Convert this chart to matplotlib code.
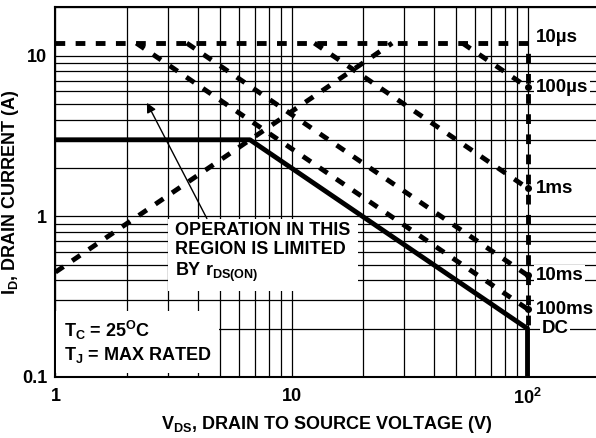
import matplotlib
matplotlib.use("Agg")
import matplotlib.pyplot as plt
from matplotlib.ticker import NullFormatter

plt.rcParams['font.family'] = ['Liberation Sans', 'DejaVu Sans']
plt.rcParams['font.weight'] = 'bold'
plt.rcParams['axes.labelweight'] = 'bold'
plt.rcParams['mathtext.fontset'] = 'custom'
plt.rcParams['mathtext.rm'] = 'Liberation Sans:bold'
plt.rcParams['mathtext.it'] = 'Liberation Sans:bold'
plt.rcParams['mathtext.bf'] = 'Liberation Sans:bold'
plt.rcParams['lines.scale_dashes'] = False

# safe operating area curves, (V_DS, I_D) vertices
rds_v = [1, 26.7]
rds_i = [0.45, 12]
t10us_v = [1, 100, 100]
t10us_i = [12, 12, 0.2]
t100us_v = [53, 100]
t100us_i = [12, 6.37]
t1ms_v = [12.5, 100]
t1ms_i = [12, 1.5]
t10ms_v = [3.6, 100]
t10ms_i = [12, 0.43]
t100ms_v = [2.2, 100]
t100ms_i = [12, 0.265]
dc_v = [1, 6.67, 100, 100]
dc_i = [3, 3, 0.2, 0.1]

pulse_names = ['100\u00b5s', '1ms', '10ms', '100ms']
pulse_v = [t100us_v, t1ms_v, t10ms_v, t100ms_v]
pulse_i = [t100us_i, t1ms_i, t10ms_i, t100ms_i]

xticks = [1, 10, 100]
xticklabels = ['1', '10', '10$^2$']
yticks = [0.1, 1, 10]
yticklabels = ['0.1', '1', '10']

fs = 13

fig = plt.figure(figsize=(5.96, 4.38), dpi=100)
ax = fig.add_axes([0.0931, 0.1393, 0.9112, 0.8436])
ax.set_xscale('log')
ax.set_yscale('log')
ax.set_xlim(1, 200)
ax.set_ylim(0.1, 20)

ax.set_xticks(xticks)
ax.set_xticklabels(xticklabels)
ax.set_yticks(yticks)
ax.set_yticklabels(yticklabels)
ax.xaxis.set_minor_formatter(NullFormatter())
ax.yaxis.set_minor_formatter(NullFormatter())
ax.tick_params(which='both', length=0, labelsize=fs)
ax.tick_params(axis='x', pad=8)
ax.tick_params(axis='y', pad=6)
ax.grid(which='both', color='black', linewidth=0.9)
ax.set_axisbelow(True)
for s in ax.spines.values():
    s.set_linewidth(1.5)

dash = dict(color='black', linewidth=3.5, linestyle=(0, (7, 7.5)),
            solid_capstyle='butt', zorder=4)
ax.plot(rds_v, rds_i, **dash)
ax.plot(t10us_v, t10us_i, **dash)
for v, i in zip(pulse_v, pulse_i):
    ax.plot(v, i, **dash)
    ax.plot(v[-1:], i[-1:], 'o', color='black', markersize=4, zorder=4)
ax.plot(dc_v, dc_i, color='black', linewidth=3.5, zorder=5)

lbl = dict(textcoords='offset points', ha='left', va='center', fontsize=13.5,
           bbox=dict(boxstyle='square,pad=0.1', fc='white', ec='none'), zorder=6)
ax.annotate('10\u00b5s', xy=(t10us_v[1], t10us_i[1]), xytext=(6, 4), **lbl)
for name, v, i in zip(pulse_names, pulse_v, pulse_i):
    ax.annotate(name, xy=(v[-1], i[-1]), xytext=(6, 0), **lbl)
ax.annotate('DC', xy=(dc_v[2], dc_i[2]), xytext=(10, 0), **lbl)

ax.text(0.22, 0.335, 'OPERATION IN THIS\nREGION IS LIMITED\nBY r$_{DS(ON)}$',
        transform=ax.transAxes, fontsize=fs, ha='left', va='center',
        linespacing=1.15, zorder=3,
        bbox=dict(boxstyle='square,pad=0.4', fc='white', ec='none'))
ax.annotate('', xy=(2.44, 5.1), xytext=(4.38, 0.97),
            arrowprops=dict(arrowstyle='-|>', color='black', lw=1,
                            mutation_scale=14, shrinkA=0, shrinkB=0), zorder=3)

ax.text(0.015, 0.095, 'T$_C$ = 25$^O$C\nT$_J$ = MAX RATED',
        transform=ax.transAxes, fontsize=fs, ha='left', va='center',
        linespacing=1.15, zorder=3,
        bbox=dict(boxstyle='square,pad=0.45', fc='white', ec='none'))

ax.set_xlabel('V$_{DS}$, DRAIN TO SOURCE VOLTAGE (V)', fontsize=fs, labelpad=4)
ax.set_ylabel('I$_D$, DRAIN CURRENT (A)', fontsize=fs)
ax.yaxis.set_label_coords(-0.064, 0.5)

fig.savefig('out.png', dpi=100)
